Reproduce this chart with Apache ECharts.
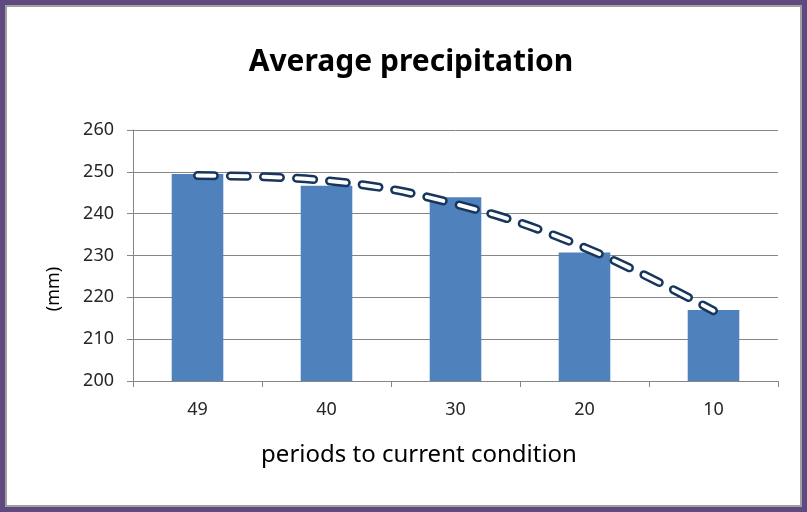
<!DOCTYPE html>
<html>
<head>
<meta charset="utf-8">
<title>Average precipitation</title>
<script src="https://cdn.jsdelivr.net/npm/echarts@6/dist/echarts.min.js"></script>
<style>
  html, body { margin: 0; padding: 0; background: #ffffff; }
  #wrap { position: relative; width: 807px; height: 512px; }
  #chart { position: absolute; left: 0; top: 0; width: 807px; height: 512px; }
  #frame {
    position: absolute; left: 0; top: 0; width: 807px; height: 512px;
    box-sizing: border-box; border: 5px solid #5f4a7f;
    box-shadow: inset 0 0 0 2px #a0a0a0; pointer-events: none;
  }
</style>
</head>
<body>
<div id="wrap">
  <div id="chart"></div>
  <div id="frame"></div>
</div>
<script>
// Periods before the current condition and the average precipitation (mm)
const periods = ['49', '40', '30', '20', '10'];
const precipitation = [249.5, 246.7, 243.9, 230.7, 217.0];
// Trend curve values at each period
const trend = [249.1, 247.9, 242.3, 231.9, 216.8];
const yTicks = { min: 200, max: 260, step: 10 };

const FONT = '"Noto Sans", "Open Sans", sans-serif';
const dash = [17, 16];

const chart = echarts.init(document.getElementById('chart'), null, { renderer: 'canvas' });
chart.setOption({
  animation: false,
  backgroundColor: '#ffffff',
  title: {
    text: 'Average precipitation',
    left: 406, top: 42, textAlign: 'center',
    textStyle: { fontFamily: FONT, fontWeight: 'bold', fontSize: 30, color: '#000000' }
  },
  grid: { left: 133, right: 29, top: 130, bottom: 131, containLabel: false },
  xAxis: {
    type: 'category',
    data: periods,
    boundaryGap: true,
    axisLine: { lineStyle: { color: '#868686', width: 1 } },
    axisTick: { show: true, length: 6, lineStyle: { color: '#868686' } },
    axisLabel: { fontFamily: FONT, fontSize: 18, color: '#262626', margin: 20 },
    splitLine: { show: false }
  },
  yAxis: {
    type: 'value',
    min: yTicks.min, max: yTicks.max, interval: yTicks.step,
    axisLine: { show: true, lineStyle: { color: '#868686', width: 1 } },
    axisTick: { show: true, length: 6, lineStyle: { color: '#868686' } },
    axisLabel: { fontFamily: FONT, fontSize: 18, color: '#262626', margin: 19 },
    splitLine: { lineStyle: { color: '#868686', width: 1 } }
  },
  graphic: [
    {
      type: 'text', x: 54, y: 289, rotation: Math.PI / 2,
      style: { text: '(mm)', fontFamily: FONT, fontSize: 18, fill: '#000000',
               align: 'center', verticalAlign: 'middle' }
    },
    {
      type: 'text', x: 419, y: 455,
      style: { text: 'periods to current condition', fontFamily: FONT, fontSize: 24, fill: '#000000',
               align: 'center', verticalAlign: 'middle' }
    }
  ],
  series: [
    {
      name: 'precipitation',
      type: 'bar',
      data: precipitation,
      barCategoryGap: '60%',
      itemStyle: { color: '#4f81bd' },
      silent: true,
      z: 2
    },
    {
      name: 'trend outline',
      type: 'line',
      data: trend,
      smooth: 0.4,
      showSymbol: false,
      symbol: 'none',
      lineStyle: { color: '#17365d', width: 9, type: dash, cap: 'round', join: 'round' },
      silent: true,
      z: 3
    },
    {
      name: 'trend fill',
      type: 'line',
      data: trend,
      smooth: 0.4,
      showSymbol: false,
      symbol: 'none',
      lineStyle: { color: '#ffffff', width: 4, type: dash, cap: 'round', join: 'round' },
      silent: true,
      z: 4
    }
  ]
});
</script>
</body>
</html>
